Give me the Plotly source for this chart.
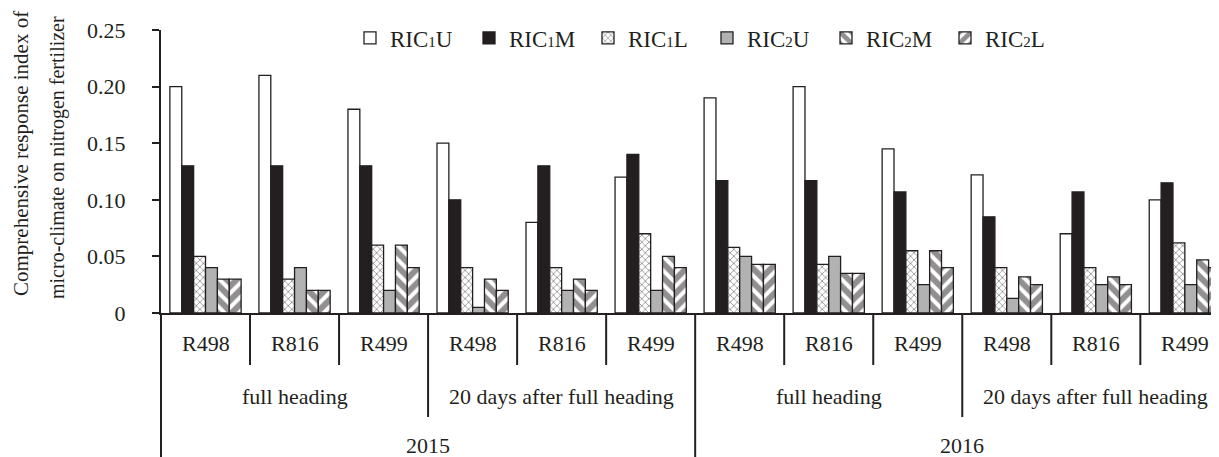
import plotly.graph_objects as go

years = ["2015", "2016"]
stages = ["full heading", "20 days after full heading"]
varieties = ["R498", "R816", "R499"]

series_names = ["RIC1U", "RIC1M", "RIC1L", "RIC2U", "RIC2M", "RIC2L"]
ric1u = [0.20, 0.21, 0.18, 0.15, 0.08, 0.12, 0.19, 0.20, 0.145, 0.122, 0.07, 0.10]
ric1m = [0.13, 0.13, 0.13, 0.10, 0.13, 0.14, 0.117, 0.117, 0.107, 0.085, 0.107, 0.115]
ric1l = [0.05, 0.03, 0.06, 0.04, 0.04, 0.07, 0.058, 0.043, 0.055, 0.04, 0.04, 0.062]
ric2u = [0.04, 0.04, 0.02, 0.005, 0.02, 0.02, 0.05, 0.05, 0.025, 0.013, 0.025, 0.025]
ric2m = [0.03, 0.02, 0.06, 0.03, 0.03, 0.05, 0.043, 0.035, 0.055, 0.032, 0.032, 0.047]
ric2l = [0.03, 0.02, 0.04, 0.02, 0.02, 0.04, 0.043, 0.035, 0.04, 0.025, 0.025, 0.04]

y_tickvals = [0, 0.05, 0.10, 0.15, 0.20, 0.25]
y_ticktext = ["0", "0.05", "0.10", "0.15", "0.20", "0.25"]

INK = "#231f20"
FONT = "Liberation Serif"

# page has an 8px body margin; work in figure coordinates
OFF = 8
W, H = 1219 - OFF, 457 - OFF
plot_left = 161 - OFF
plot_top, plot_bot = 30 - OFF, 313 - OFF
ph = plot_bot - plot_top

groups = []
for y in years:
    for s in stages:
        for v in varieties:
            groups.append((y, s, v))
xpos = list(range(len(groups)))


def legend_label(name):
    return name[:3] + "<span style='font-size:15px'>" + name[3] + "</span>" + name[4:]


styles = [
    dict(color="white"),
    dict(color=INK),
    dict(color="white", pattern=dict(shape="x", fgcolor=INK, bgcolor="white", size=5, solidity=0.3)),
    dict(color="#b2b2b2"),
    dict(color="white", pattern=dict(shape="\\", fgcolor=INK, bgcolor="white", size=10, solidity=0.6)),
    dict(color="white", pattern=dict(shape="/", fgcolor=INK, bgcolor="white", size=10, solidity=0.6)),
]
values = [ric1u, ric1m, ric1l, ric2u, ric2m, ric2l]

fig = go.Figure()
for name, vals, st in zip(series_names, values, styles):
    marker = dict(line=dict(color=INK, width=1.3))
    marker.update(st)
    fig.add_trace(go.Bar(x=xpos, y=vals, name=legend_label(name), marker=marker))


def py(page_pix):
    return (plot_bot - (page_pix - OFF)) / ph


annotations = []
shapes = []
lab_font = dict(family=FONT, size=22, color=INK)
for i, (yr, st, v) in enumerate(groups):
    annotations.append(dict(x=i, y=py(343), xref="x", yref="paper", text=v, showarrow=False,
                            font=lab_font, yanchor="middle", xanchor="center"))
for k in range(len(years) * len(stages)):
    idx = [i for i in range(len(groups)) if i // 3 == k]
    cx = sum(idx) / len(idx)
    annotations.append(dict(x=cx, y=py(397), xref="x", yref="paper", text=stages[k % 2], showarrow=False,
                            font=lab_font, yanchor="middle", xanchor="center"))
for k, yr in enumerate(years):
    idx = [i for i in range(len(groups)) if i // 6 == k]
    cx = sum(idx) / len(idx)
    annotations.append(dict(x=cx, y=py(445), xref="x", yref="paper", text=yr, showarrow=False,
                            font=lab_font, yanchor="middle", xanchor="center"))

for i in range(len(groups) - 1):
    b = i + 0.5
    n = i + 1
    if n % 6 == 0:
        bottom = py(470)
    elif n % 3 == 0:
        bottom = py(417)
    else:
        bottom = py(365)
    shapes.append(dict(type="line", xref="x", yref="paper", x0=b, x1=b, y0=0, y1=bottom,
                       line=dict(color=INK, width=2)))
shapes.append(dict(type="line", xref="paper", yref="paper", x0=0, x1=0, y0=0, y1=py(470),
                   line=dict(color=INK, width=2)))

# y-axis title as two rotated lines
annotations.append(dict(x=0, y=py(154), xref="paper", yref="paper", text="Comprehensive response index of",
                        showarrow=False, textangle=-90, font=dict(family=FONT, size=21, color=INK),
                        xanchor="center", yanchor="middle", xshift=(21 - 161)))
annotations.append(dict(x=0, y=py(158), xref="paper", yref="paper", text="micro-climate on nitrogen fertilizer",
                        showarrow=False, textangle=-90, font=dict(family=FONT, size=20, color=INK),
                        xanchor="center", yanchor="middle", xshift=(57 - 161)))

# x range so that the last group is cut at the window edge (89 px per group)
group_px = 89.03
x_end = (1219 - 161) / group_px - 0.5

fig.update_layout(
    width=W, height=H,
    margin=dict(l=plot_left, r=0, t=plot_top, b=H - plot_bot, pad=0, autoexpand=False),
    paper_bgcolor="white", plot_bgcolor="white",
    barmode="group", bargap=0.2, bargroupgap=0,
    font=dict(family=FONT, size=22, color=INK),
    showlegend=True,
    legend=dict(orientation="h", xref="container", yref="container",
                x=(350 - OFF) / W, xanchor="left", y=1 - (38 - OFF) / H, yanchor="middle",
                font=dict(family=FONT, size=23, color=INK), entrywidth=74, entrywidthmode="pixels",
                bgcolor="rgba(0,0,0,0)", traceorder="normal"),
    xaxis=dict(range=[-0.5, x_end], showgrid=False, zeroline=False, showticklabels=False,
               showline=True, linecolor=INK, linewidth=2, ticks=""),
    yaxis=dict(range=[0, 0.25], tickvals=y_tickvals, ticktext=y_ticktext, showgrid=False, zeroline=False,
               showline=True, linecolor=INK, linewidth=2, ticks="outside", ticklen=7, tickwidth=2,
               tickcolor=INK, ticklabelstandoff=22, tickfont=dict(family=FONT, size=22, color=INK)),
    annotations=annotations, shapes=shapes,
)

fig.write_html("out.html")
